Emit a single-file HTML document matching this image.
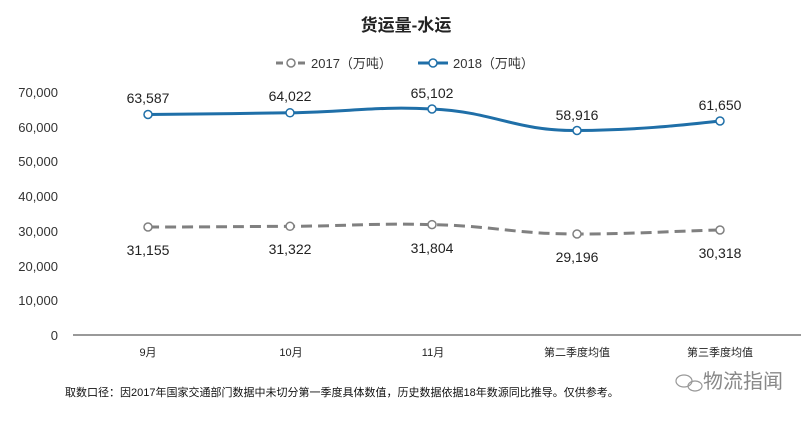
<!DOCTYPE html>
<html><head><meta charset="utf-8"><style>
body{margin:0;background:#fff;}
svg text{font-family:"Liberation Sans","Noto Sans CJK SC",sans-serif;}
</style></head><body>
<svg width="812" height="418" viewBox="0 0 812 418" xmlns="http://www.w3.org/2000/svg">
<rect width="812" height="418" fill="#fff"/>
<text x="406" y="31" font-size="17" font-weight="bold" text-anchor="middle" fill="#222">货运量-水运</text>
<line x1="276" y1="63" x2="306" y2="63" stroke="#7f7f7f" stroke-width="3" stroke-dasharray="7,4"/>
<circle cx="291" cy="63" r="4" fill="#fff" stroke="#7f7f7f" stroke-width="1.5"/>
<text x="311" y="68" font-size="13" fill="#333">2017（万吨）</text>
<line x1="418" y1="63" x2="448" y2="63" stroke="#1f6fa8" stroke-width="3"/>
<circle cx="433" cy="63" r="4" fill="#fff" stroke="#1f6fa8" stroke-width="1.5"/>
<text x="453" y="68" font-size="13" fill="#333">2018（万吨）</text>
<g font-size="13" fill="#333" text-anchor="end">
<text x="58" y="97">70,000</text>
<text x="58" y="132">60,000</text>
<text x="58" y="166">50,000</text>
<text x="58" y="201">40,000</text>
<text x="58" y="236">30,000</text>
<text x="58" y="271">20,000</text>
<text x="58" y="305">10,000</text>
<text x="58" y="340">0</text>
</g>
<line x1="73" y1="335" x2="801" y2="335" stroke="#333" stroke-width="1"/>
<g font-size="11" fill="#222" text-anchor="middle">
<text x="148" y="356">9月</text>
<text x="291" y="356">10月</text>
<text x="433" y="356">11月</text>
<text x="577" y="356">第二季度均值</text>
<text x="720" y="356">第三季度均值</text>
</g>
<path d="M148,114.5 C215,114 235,113.5 290,112.8 C350,112 375,106 432,109 C495,112 515,131 577,130.5 C635,130 675,126 720,121" fill="none" stroke="#1f6fa8" stroke-width="3"/>
<g fill="#fff" stroke="#1f6fa8" stroke-width="1.5">
<circle cx="148" cy="114.5" r="4"/><circle cx="290" cy="112.8" r="4"/><circle cx="432" cy="109" r="4"/><circle cx="577" cy="130.5" r="4"/><circle cx="720" cy="121" r="4"/>
</g>
<path d="M148,227 C215,227 235,226.5 290,226.3 C350,226 375,223 432,224.6 C495,226 515,234 577,234 C635,234 675,231 720,230" fill="none" stroke="#808080" stroke-width="3" stroke-dasharray="11,6"/>
<g fill="#fff" stroke="#808080" stroke-width="1.5">
<circle cx="148" cy="227" r="4"/><circle cx="290" cy="226.3" r="4"/><circle cx="432" cy="224.6" r="4"/><circle cx="577" cy="234" r="4"/><circle cx="720" cy="230" r="4"/>
</g>
<g font-size="14" fill="#222" text-anchor="middle">
<text x="148" y="103">63,587</text>
<text x="290" y="101">64,022</text>
<text x="432" y="98">65,102</text>
<text x="577" y="120">58,916</text>
<text x="720" y="110">61,650</text>
<text x="148" y="255">31,155</text>
<text x="290" y="254">31,322</text>
<text x="432" y="253">31,804</text>
<text x="577" y="262">29,196</text>
<text x="720" y="258">30,318</text>
</g>
<text x="65" y="396" font-size="11" fill="#111">取数口径：因2017年国家交通部门数据中未切分第一季度具体数值，历史数据依据18年数源同比推导。仅供参考。</text>
<g fill="none" stroke="#999" stroke-width="1.2">
<ellipse cx="684" cy="381" rx="8" ry="6"/><ellipse cx="695" cy="386" rx="7" ry="5"/>
</g>
<text x="703" y="388" font-size="20" fill="#888">物流指闻</text>
</svg>
</body></html>
